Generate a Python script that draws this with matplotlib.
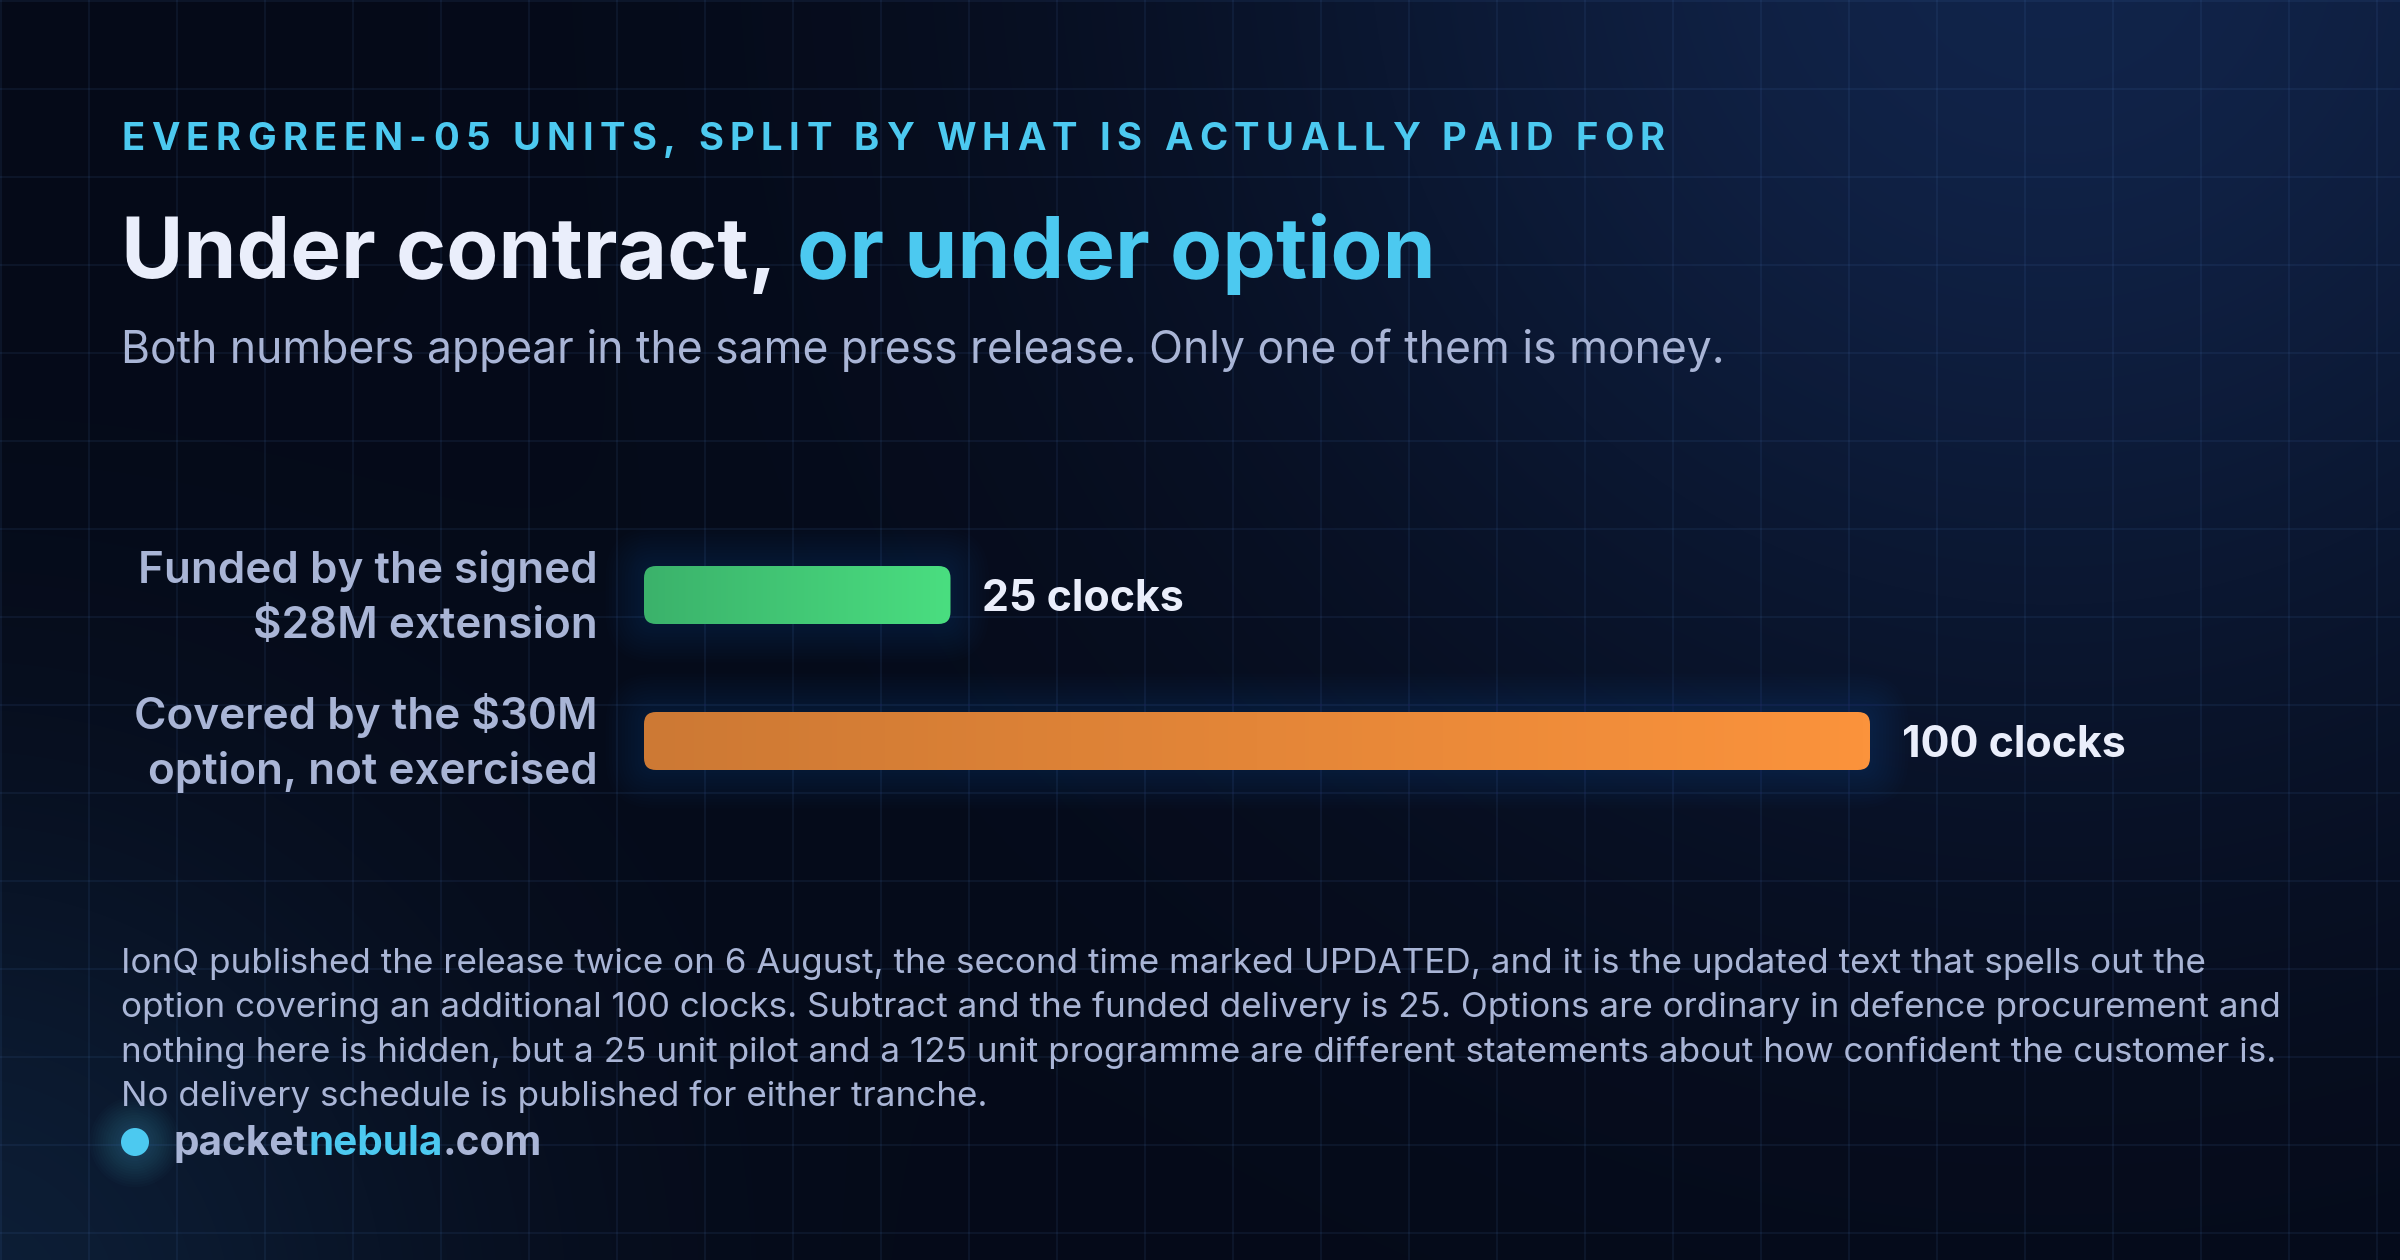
import numpy as np
import matplotlib
matplotlib.use("Agg")
import matplotlib.pyplot as plt
from matplotlib.patches import FancyBboxPatch, Circle
from matplotlib.colors import LinearSegmentedColormap
import matplotlib.font_manager as fm

# ---------------- data ----------------
categories = ["Funded by the signed\n\\$28M extension",
              "Covered by the \\$30M\noption, not exercised"]
values = [25, 100]
value_labels = ["25 clocks", "100 clocks"]
bar_left_colors = ["#3bb26b", "#cd7934"]
bar_right_colors = ["#4ade80", "#fb933c"]

kicker = "EVERGREEN-05 UNITS, SPLIT BY WHAT IS ACTUALLY PAID FOR"
title_a = "Under contract,"
title_b = "or under option"
subtitle = "Both numbers appear in the same press release. Only one of them is money."
footnote_lines = [
    "IonQ published the release twice on 6 August, the second time marked UPDATED, and it is the updated text that spells out the",
    "option covering an additional 100 clocks. Subtract and the funded delivery is 25. Options are ordinary in defence procurement and",
    "nothing here is hidden, but a 25 unit pilot and a 125 unit programme are different statements about how confident the customer is.",
    "No delivery schedule is published for either tranche.",
]
site_parts = ["packet", "nebula", ".com"]

# ---------------- style ----------------
W, H, DPI = 2400, 1260, 100
CYAN = "#4cc9f0"
WHITE = "#eaeefb"
MUTED = "#a9b5d6"
BASE = np.array([5, 10, 24]) / 255.0


def pick_font(names):
    for n in names:
        try:
            fm.findfont(fm.FontProperties(family=n), fallback_to_default=False)
            return n
        except Exception:
            continue
    return "DejaVu Sans"


FONT = pick_font(["Inter", "Lato", "Roboto", "DejaVu Sans"])
plt.rcParams["font.family"] = [FONT, "DejaVu Sans"]

fig = plt.figure(figsize=(W / DPI, H / DPI), dpi=DPI)
bg = fig.add_axes([0, 0, 1, 1])
bg.set_xlim(0, W)
bg.set_ylim(H, 0)
bg.axis("off")

# background gradient
yy, xx = np.mgrid[0:H:4, 0:W:4].astype(float)
img = np.ones(xx.shape + (3,)) * BASE
d1 = np.hypot(xx - 2050, yy + 80)
g1 = np.exp(-(d1 / 820.0) ** 2)
img += g1[..., None] * (np.array([12, 26, 50]) / 255.0)
d2 = np.hypot(xx + 50, yy - 1320)
g2 = np.exp(-(d2 / 520.0) ** 2)
img += g2[..., None] * (np.array([8, 20, 30]) / 255.0)
img = np.clip(img, 0, 1)
bg.imshow(img, extent=(0, W, H, 0), interpolation="bilinear", aspect="auto", zorder=0)

# grid
for gx in range(1, W + 1, 88):
    bg.axvline(gx, color=(0.35, 0.55, 0.85), alpha=0.09, lw=1.4, zorder=1)
for gy in range(1, H + 1, 88):
    bg.axhline(gy, color=(0.35, 0.55, 0.85), alpha=0.09, lw=1.4, zorder=1)
bg.set_xlim(0, W)
bg.set_ylim(H, 0)

R = fig.canvas.get_renderer()


def text_w(s, size, weight):
    t = bg.text(0, 0, s, fontsize=size, fontweight=weight)
    w = t.get_window_extent(R).width
    t.remove()
    return w


def fit(s, target, weight, size0=30.0):
    return size0 * target / text_w(s, size0, weight)


# kicker with letter spacing
k_size = 27.5
k_nat = text_w(kicker, k_size, "bold")
k_target = 1544
extra = (k_target - k_nat) / (len(kicker) - 1)
hw = text_w("H", k_size, "bold")
for i, ch in enumerate(kicker):
    if ch == " ":
        continue
    pre = text_w(kicker[:i] + "H", k_size, "bold") - hw if i > 0 else 0.0
    bg.text(121 + pre + extra * i, 150, ch, fontsize=k_size, fontweight="bold",
            color=CYAN, va="baseline", ha="left", zorder=5)

# title
t_size = fit(title_a + " " + title_b, 1315, "bold", 60)
bg.text(121, 278, title_a, fontsize=t_size, fontweight="bold", color=WHITE,
        va="baseline", ha="left", zorder=5)
off = text_w(title_a + " H", t_size, "bold") - text_w("H", t_size, "bold")
bg.text(121 + off, 278, title_b, fontsize=t_size, fontweight="bold", color=CYAN,
        va="baseline", ha="left", zorder=5)

# subtitle
s_size = fit(subtitle, 1606, "normal", 29)
bg.text(121, 363, subtitle, fontsize=s_size, color=MUTED, va="baseline", ha="left", zorder=5)

# footnote
f_size = fit(footnote_lines[2], 2153, "normal", 22)
for line, yb in zip(footnote_lines, [973, 1017, 1062, 1106]):
    bg.text(121, yb, line, fontsize=f_size, color=MUTED, va="baseline", ha="left", zorder=5)

# footer dot with glow
for k in range(12, 0, -1):
    bg.add_patch(Circle((135, 1142), 14 + k * 2.6, color=CYAN, alpha=0.018, lw=0, zorder=4))
bg.add_patch(Circle((135, 1142), 14, color=CYAN, lw=0, zorder=5))
site_size = fit("".join(site_parts), 369, "bold", 26)
x0 = 173
cols = [MUTED, CYAN, MUTED]
hw2 = text_w("H", site_size, "bold")
for j, (part, c) in enumerate(zip(site_parts, cols)):
    pre = text_w("".join(site_parts[:j]) + "H", site_size, "bold") - hw2 if j > 0 else 0.0
    bg.text(x0 + pre, 1155, part, fontsize=site_size, fontweight="bold", color=c,
            va="baseline", ha="left", zorder=5)

# ---------------- bar chart ----------------
ax_l, ax_r = 644, 1870
ax_top, ax_bot = 522, 814
ax = fig.add_axes([ax_l / W, 1 - ax_bot / H, (ax_r - ax_l) / W, (ax_bot - ax_top) / H])
ax.set_xlim(0, max(values))
ax.set_ylim(len(values) - 0.5, -0.5)
ax.axis("off")
ax.patch.set_alpha(0)

px_per_x = (ax_r - ax_l) / max(values)
px_per_y = (ax_bot - ax_top) / len(values)
aspect = px_per_x / px_per_y
bar_h = 58 / px_per_y
rad = 12 / px_per_x

l_size = fit("option, not exercised", 450, "semibold", 29)
v_size = fit(value_labels[1], 224, "bold", 29)

for i, (v, lab, vl, c0, c1) in enumerate(zip(values, categories, value_labels,
                                             bar_left_colors, bar_right_colors)):
    # glow
    for k in range(1, 13):
        pad = k * 3.2 / px_per_x
        ax.add_patch(FancyBboxPatch((0, i - bar_h / 2), v, bar_h,
                                    boxstyle=f"round,pad={pad},rounding_size={rad + pad}",
                                    mutation_aspect=aspect, facecolor="#2a55b0",
                                    edgecolor="none", alpha=0.02, zorder=2, clip_on=False))
    patch = FancyBboxPatch((0, i - bar_h / 2), v, bar_h,
                           boxstyle=f"round,pad=0,rounding_size={rad}",
                           mutation_aspect=aspect, facecolor="none",
                           edgecolor="none", zorder=3)
    ax.add_patch(patch)
    cmap = LinearSegmentedColormap.from_list(f"g{i}", [c0, c1])
    grad = np.linspace(0, 1, 256)[None, :]
    im = ax.imshow(grad, extent=(0, v, i + bar_h / 2, i - bar_h / 2), cmap=cmap,
                   aspect="auto", interpolation="bilinear", zorder=3)
    im.set_clip_path(patch)

    ax.annotate(vl, xy=(v, i), xytext=(32 * 0.72, -16 * 0.72), textcoords="offset points",
                fontsize=v_size, fontweight="bold", color=WHITE, ha="left", va="baseline",
                annotation_clip=False)
    l1, l2 = lab.split("\n")
    ax.annotate(l1, xy=(0, i), xytext=(-46 * 0.72, 12 * 0.72), textcoords="offset points",
                fontsize=l_size, fontweight="semibold", color=MUTED, ha="right",
                va="baseline", annotation_clip=False)
    ax.annotate(l2, xy=(0, i), xytext=(-46 * 0.72, -43 * 0.72), textcoords="offset points",
                fontsize=l_size, fontweight="semibold", color=MUTED, ha="right",
                va="baseline", annotation_clip=False)

ax.set_xlim(0, max(values))
ax.set_ylim(len(values) - 0.5, -0.5)

fig.savefig("out.png", dpi=DPI, facecolor=tuple(BASE))
